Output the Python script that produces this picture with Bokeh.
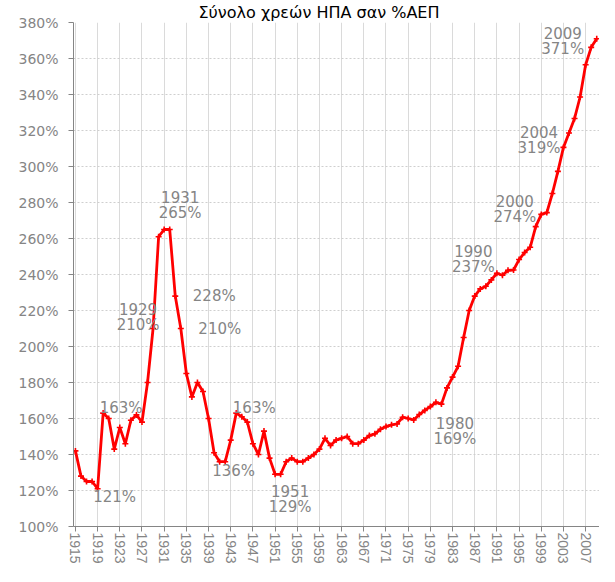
from bokeh.plotting import figure
from bokeh.models import FixedTicker, PrintfTickFormatter, ColumnDataSource, Range1d
from bokeh.core.properties import value
from bokeh.embed import file_html
from bokeh.resources import INLINE

# ---- data ----
years = list(range(1915, 2010))
debt_pct = [
    142, 128, 125, 125, 121, 163, 160, 143, 155, 146,
    159, 162, 158, 180, 210, 261, 265, 265, 228, 210,
    185, 172, 180, 175, 160, 141, 136, 136, 148, 163,
    161, 158, 146, 140, 153, 138, 129, 129, 136, 138,
    136, 136, 138, 140, 143, 149, 145, 148, 149, 150,
    146, 146, 148, 150.5, 151.5, 154, 155.5, 156.5, 157, 160.7,
    160, 159.2, 162.2, 164.5, 166.6, 169, 168, 177, 183, 189,
    205, 220, 228, 232, 233.5, 237, 240.7, 239.6, 242.3, 242.5,
    248.3, 252.2, 255.1, 266.6, 273.4, 274.4, 285, 297.3, 310.6, 318.6,
    326.7, 338.6, 356.5, 366.2, 371,
]
x_ticks = list(range(1915, 2010, 4))
y_ticks = list(range(100, 381, 20))
title_text = "Σύνολο χρεών ΗΠΑ σαν %ΑΕΠ"

# annotated points: year, whether the year is shown above the value
ann_years = [1919, 1920, 1929, 1931, 1933, 1934, 1941, 1944, 1951, 1980, 1990, 2000, 2004, 2009]
ann_show_year = [False, False, True, True, False, False, False, False, True, True, True, True, True, True]

# label placement (pixel offsets from the point: dx, dy of first line)
ann_offsets = {
    1919: (17, 8), 1920: (18, -5), 1929: (-15, -20), 1931: (16, -33),
    1933: (39, 0), 1934: (39, 0), 1941: (14, 9), 1944: (18, -5),
    1951: (15, 17), 1980: (19, 21), 1990: (-18, -29), 2000: (-32, -12),
    2004: (-30, -1), 2009: (-34, -6),
}
LINE_GAP = 16

# ---- build annotation text sources from the data ----
lookup = dict(zip(years, debt_pct))
ax, ay, atext, xo, yo = [], [], [], [], []
for yr, show in zip(ann_years, ann_show_year):
    v = lookup[yr]
    dx, dy = ann_offsets[yr]
    if show:
        ax.append(yr); ay.append(v); atext.append(str(yr)); xo.append(dx); yo.append(dy)
        ax.append(yr); ay.append(v); atext.append(f"{round(v)}%"); xo.append(dx); yo.append(dy + LINE_GAP)
    else:
        ax.append(yr); ay.append(v); atext.append(f"{round(v)}%"); xo.append(dx); yo.append(dy)
ann_src = ColumnDataSource(dict(x=ax, y=ay, text=atext, xo=xo, yo=yo))

p = figure(
    width=599, height=566,
    x_range=Range1d(1914.65, 2009.5), y_range=Range1d(100, 380),
    output_backend="svg", toolbar_location=None,
    min_border_left=73, min_border_right=0, min_border_top=4, min_border_bottom=20,
)
p.outline_line_color = None
p.background_fill_color = "white"
p.border_fill_color = "white"

# title
p.title.text = title_text
p.title.align = "left"
p.title.offset = 125
p.title.standoff = 1
p.title.text_font = "DejaVu Sans"
p.title.text_font_size = "16px"
p.title.text_font_style = "normal"
p.title.text_color = "black"

GRAY = "#858585"

# axes
p.xaxis.ticker = FixedTicker(ticks=x_ticks)
p.yaxis.ticker = FixedTicker(ticks=y_ticks)
p.yaxis.formatter = PrintfTickFormatter(format="%d%%")
p.xaxis.major_label_orientation = "vertical"
for ax_ in (p.xaxis, p.yaxis):
    ax_.axis_line_color = GRAY
    ax_.major_tick_line_color = GRAY
    ax_.major_tick_out = 5
    ax_.major_tick_in = 0
    ax_.minor_tick_line_color = None
    ax_.major_label_text_color = GRAY
p.xaxis.major_label_text_font = "Liberation Sans"
p.xaxis.major_label_text_font_size = "14px"
p.xaxis.major_label_standoff = 1
p.yaxis.major_label_text_font = "DejaVu Sans"
p.yaxis.major_label_text_font_size = "14px"
p.yaxis.major_label_standoff = 10

# grids
p.xgrid.ticker = FixedTicker(ticks=x_ticks)
p.xgrid.grid_line_color = "#dadada"
p.xgrid.grid_line_width = 1
p.ygrid.ticker = FixedTicker(ticks=y_ticks)
p.ygrid.grid_line_color = "#cfcfcf"
p.ygrid.grid_line_dash = "2 2"

# series
p.line(years, debt_pct, line_color="#ff0000", line_width=2.8)
p.scatter(years, debt_pct, marker="cross", size=6, line_color="#ff0000", line_width=1.6)

# annotations
p.text(x="x", y="y", text="text", x_offset="xo", y_offset="yo", source=ann_src,
       text_align="center", text_baseline="middle", text_color=GRAY,
       text_font=value("DejaVu Sans"), text_font_size="15px")

open("out.html", "w").write(file_html(p, INLINE))
